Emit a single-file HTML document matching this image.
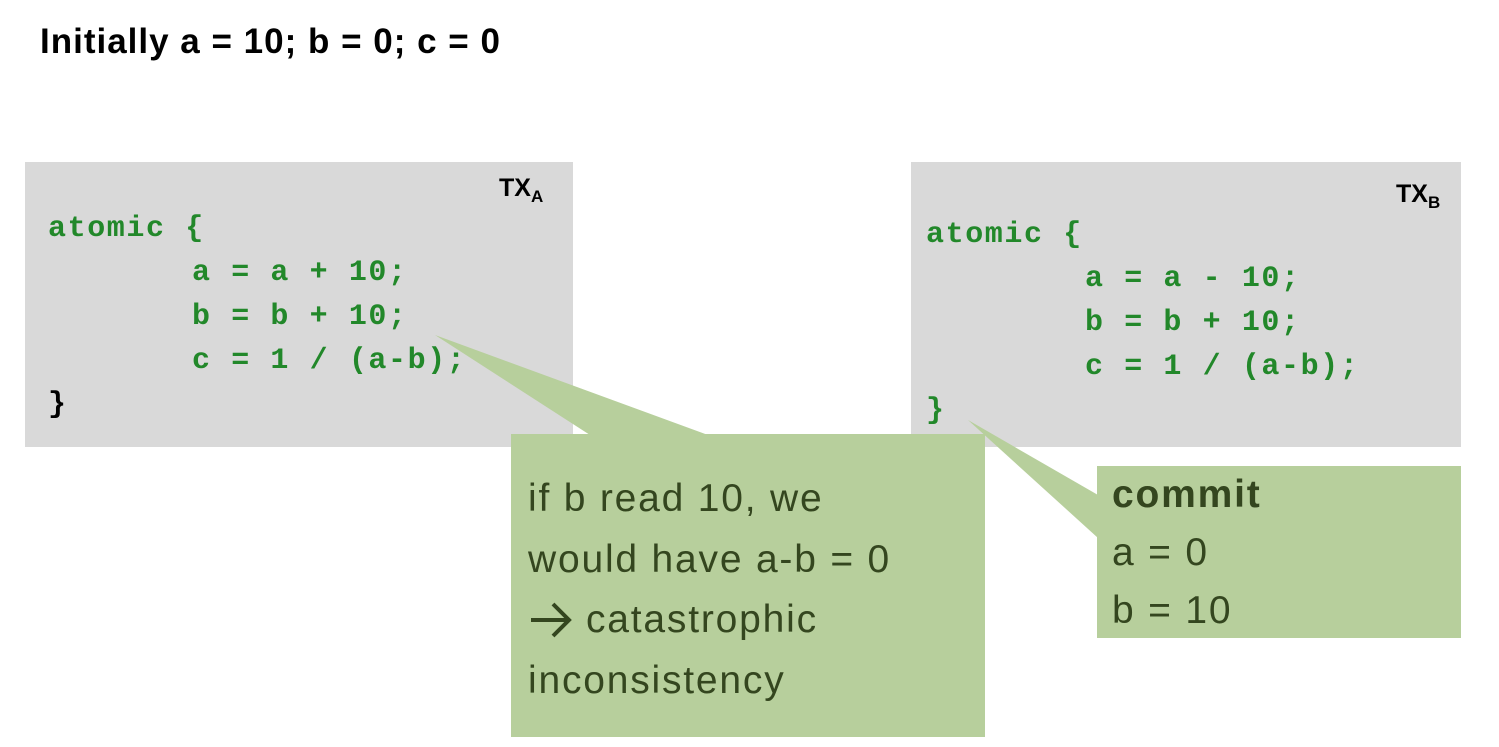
<!DOCTYPE html>
<html><head><meta charset="utf-8"><style>
body{margin:0;width:1499px;height:747px;background:#fff;position:relative;overflow:hidden;font-family:"Liberation Sans",sans-serif}
.abs{position:absolute}
.box{background:#d9d9d9}
.code{font-family:"Liberation Mono",monospace;font-weight:bold;font-size:30px;color:#22882a;white-space:pre;line-height:44px;letter-spacing:1.6px}
.ind{padding-left:144px}
.call{background:#b7cf9c;color:#34461f;font-size:39px;line-height:60.5px;letter-spacing:1.8px;white-space:nowrap}
.tx{font-weight:bold;font-size:25px;color:#000}
.tx sub{font-size:17px;vertical-align:-6px}
</style></head><body>
<div class="abs" style="left:40px;top:22px;font-weight:bold;font-size:35px;letter-spacing:1px">Initially a = 10; b = 0; c = 0</div>

<div class="abs box" style="left:25px;top:162px;width:548px;height:285px"></div>
<div class="abs tx" style="left:499px;top:174px">TX<sub>A</sub></div>
<div class="abs code" style="left:48px;top:207px">atomic {
<span class="ind">a = a + 10;</span>
<span class="ind">b = b + 10;</span>
<span class="ind">c = 1 / (a-b);</span>
<span style="color:#000">}</span></div>

<div class="abs box" style="left:911px;top:162px;width:550px;height:285px"></div>
<div class="abs tx" style="left:1396px;top:180px">TX<sub>B</sub></div>
<div class="abs code" style="left:926px;top:213px">atomic {
<span class="ind" style="padding-left:159px">a = a - 10;</span>
<span class="ind" style="padding-left:159px">b = b + 10;</span>
<span class="ind" style="padding-left:159px">c = 1 / (a-b);</span>
}</div>

<svg class="abs" style="left:0;top:0" width="1499" height="747">
<polygon points="435,335 590,435 708,435" fill="#b7cf9c"/>
<polygon points="968,420 1098,495 1098,538" fill="#b7cf9c"/>
<path d="M531 620 H568 M553 604 L569 620 L553 636" stroke="#34461f" stroke-width="4" fill="none"/>
</svg>

<div class="abs call" style="left:511px;top:434px;width:474px;height:303px;box-sizing:border-box;padding:35px 0 0 17px">if b read 10, we<br>would have a-b = 0<br><span style="display:inline-block;width:58px"></span>catastrophic<br>inconsistency</div>
<svg class="abs" style="left:511px;top:590px" width="70" height="60"><path d="M20 30 H57 M42 14 L58 30 L42 46" stroke="#34461f" stroke-width="4" fill="none"/></svg>

<div class="abs call" style="left:1097px;top:466px;width:364px;height:172px;box-sizing:border-box;padding:0 0 0 15px;line-height:58px"><b>commit</b><br>a = 0<br>b = 10</div>
</body></html>
